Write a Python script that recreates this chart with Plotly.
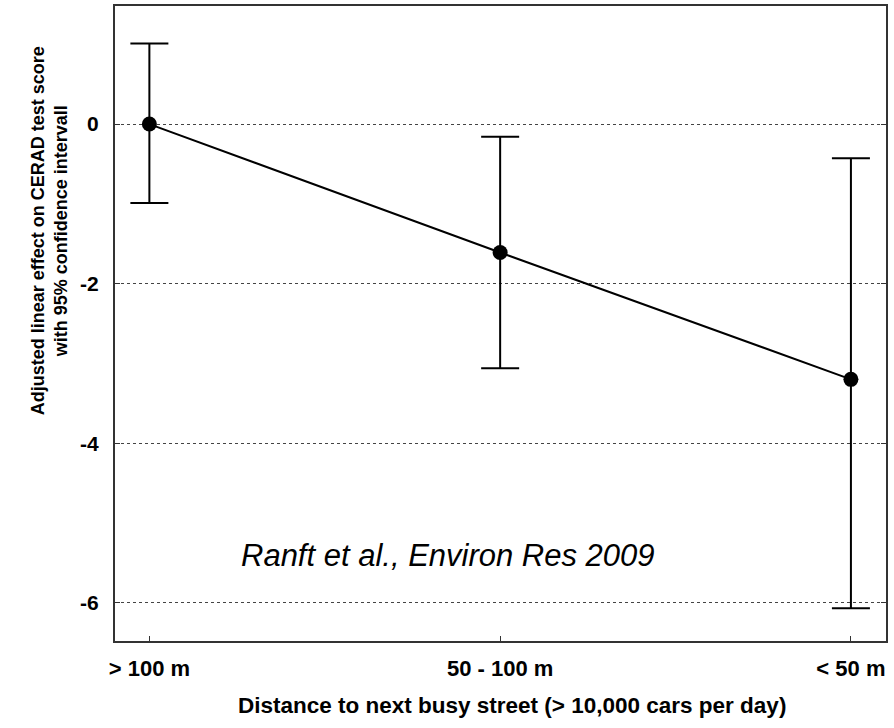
import plotly.graph_objects as go

categories = ["> 100 m", "50 - 100 m", "< 50 m"]
effect = [0.0, -1.61, -3.20]
ci_upper = [1.01, -0.16, -0.43]
ci_lower = [-0.99, -3.06, -6.07]
y_ticks = [0, -2, -4, -6]

x_pos = list(range(len(categories)))
err_plus = [u - e for u, e in zip(ci_upper, effect)]
err_minus = [e - l for e, l in zip(effect, ci_lower)]

fig = go.Figure()
fig.add_trace(go.Scatter(
    x=x_pos, y=effect, mode="lines+markers",
    line=dict(color="black", width=2),
    marker=dict(color="black", size=15),
    error_y=dict(type="data", symmetric=False, array=err_plus, arrayminus=err_minus,
                 color="black", thickness=2, width=19),
    showlegend=False,
))

font_main = "Liberation Sans, Arial, sans-serif"

fig.update_layout(
    width=894, height=728,
    margin=dict(l=115, r=8, t=4, b=87),
    paper_bgcolor="white", plot_bgcolor="white",
    font=dict(family=font_main, color="black"),
    xaxis=dict(
        range=[-0.098, 2.10], tickvals=x_pos, ticktext=["<b>%s</b>" % c for c in categories],
        tickfont=dict(size=22, family=font_main, color="black"),
        showgrid=False, zeroline=False,
        showline=True, linecolor="#333333", linewidth=2, mirror=True,
        ticks="inside", ticklen=5, tickcolor="#333333", tickwidth=1,
        ticklabelstandoff=7,
    ),
    yaxis=dict(
        range=[-6.48, 1.48], tickvals=y_ticks, ticktext=["<b>%d</b>" % v for v in y_ticks],
        tickfont=dict(size=21, family=font_main, color="black"),
        showgrid=True, gridcolor="#444444", griddash="dot", gridwidth=1,
        zeroline=False,
        showline=True, linecolor="#333333", linewidth=2, mirror="ticks",
        ticks="inside", ticklen=5, tickcolor="#333333", tickwidth=1,
        ticklabelstandoff=10,
    ),
    annotations=[
        dict(text="<b>Adjusted linear effect on CERAD test score<br>with 95% confidence intervall</b>",
             textangle=-90, xref="paper", yref="paper",
             x=(49 - 115) / 771, y=1 - (230 - 4) / 637,
             xanchor="center", yanchor="middle", showarrow=False,
             font=dict(size=18, family=font_main, color="black")),
        dict(text="<b>Distance to next busy street (> 10,000 cars per day)</b>",
             xref="paper", yref="paper",
             x=(512 - 115) / 771, y=-(706 - 641) / 637,
             xanchor="center", yanchor="middle", showarrow=False,
             font=dict(size=22.5, family=font_main, color="black")),
        dict(text="<i>Ranft et al., Environ Res 2009</i>",
             xref="paper", yref="paper",
             x=(448 - 115) / 771, y=1 - (555 - 4) / 637,
             xanchor="center", yanchor="middle", showarrow=False,
             font=dict(size=31, family=font_main, color="black")),
    ],
)

fig.write_html("out.html")
